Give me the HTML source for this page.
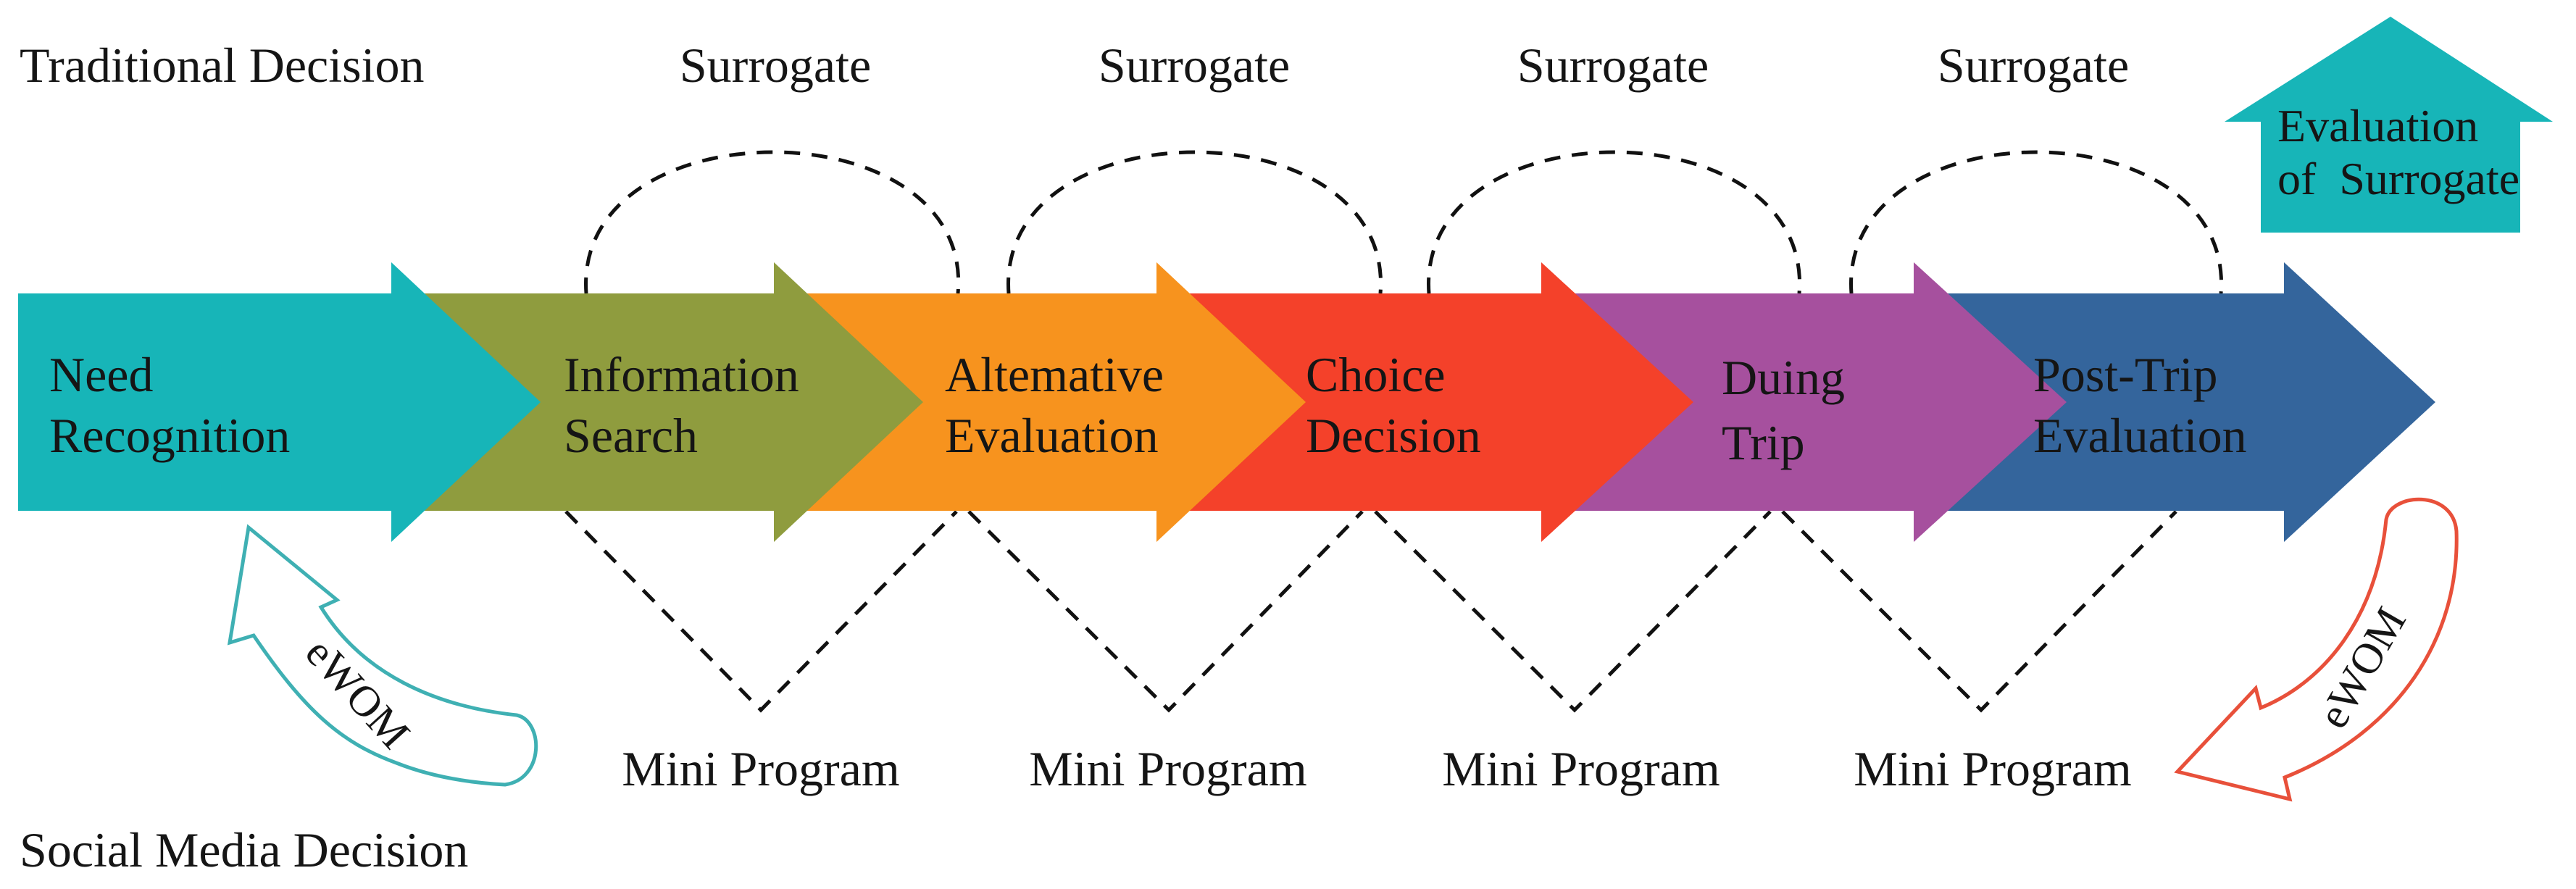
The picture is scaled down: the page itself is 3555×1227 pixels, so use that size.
<!DOCTYPE html>
<html><head><meta charset="utf-8"><style>
html,body{margin:0;padding:0;background:#fff;}
svg{display:block;}
text{font-family:"Liberation Serif",serif;fill:#151515;}
</style></head><body>
<svg width="3555" height="1227" viewBox="0 0 3555 1227" xmlns="http://www.w3.org/2000/svg">
<rect width="3555" height="1227" fill="#fff"/>
<g fill="none" stroke="#111" stroke-width="5" stroke-dasharray="22,16">
<path d="M809 405 C790 145, 1345 145, 1322 405"/>
<path d="M1392 405 C1373 145, 1925 145, 1905 405"/>
<path d="M1972 405 C1953 145, 2503 145, 2483 405"/>
<path d="M2555 405 C2536 145, 3085 145, 3065 405"/>
<path d="M781 706 L1050 980 L1320 706"/>
<path d="M1337 706 L1613 980 L1880 706"/>
<path d="M1898 706 L2173 980 L2443 706"/>
<path d="M2460 706 L2734 980 L3003 706"/>
</g>
<polygon fill="#34659c" points="2641,405 3152,405 3152,362 3361,555 3152,748 3152,705 2641,705"/>
<polygon fill="#a6509e" points="2127,405 2641,405 2641,362 2852,555 2641,748 2641,705 2127,705"/>
<polygon fill="#f4412a" points="1596,405 2127,405 2127,362 2337,555 2127,748 2127,705 1596,705"/>
<polygon fill="#f7931e" points="1068,405 1596,405 1596,362 1802,555 1596,748 1596,705 1068,705"/>
<polygon fill="#8f9c3e" points="540,405 1068,405 1068,362 1274,555 1068,748 1068,705 540,705"/>
<polygon fill="#17b5b8" points="25,405 540,405 540,362 746,555 540,748 540,705 25,705"/>
<g font-size="68">
<text x="68" y="540">Need</text><text x="68" y="624">Recognition</text>
<text x="778" y="540">Information</text><text x="778" y="624">Search</text>
<text x="1304" y="540">Altemative</text><text x="1304" y="624">Evaluation</text>
<text x="1802" y="540">Choice</text><text x="1802" y="624">Decision</text>
<text x="2376" y="544">Duing</text><text x="2376" y="634">Trip</text>
<text x="2806" y="540">Post-Trip</text><text x="2806" y="624">Evaluation</text>
</g>
<g font-size="68">
<text x="27" y="113">Traditional Decision</text>
<text x="1070" y="113" text-anchor="middle">Surrogate</text>
<text x="1648" y="113" text-anchor="middle">Surrogate</text>
<text x="2226" y="113" text-anchor="middle">Surrogate</text>
<text x="2806" y="113" text-anchor="middle">Surrogate</text>
<text x="1050" y="1084" text-anchor="middle">Mini Program</text>
<text x="1612" y="1084" text-anchor="middle">Mini Program</text>
<text x="2182" y="1084" text-anchor="middle">Mini Program</text>
<text x="2750" y="1084" text-anchor="middle">Mini Program</text>
<text x="27" y="1196">Social Media Decision</text>
</g>
<polygon fill="#17b5b8" points="3299,23 3523,168 3478,168 3478,321 3120,321 3120,168 3070,168"/>
<text x="3143" y="195" font-size="64">Evaluation</text>
<text x="3143" y="268" font-size="64">of&#160; Surrogate</text>
<path fill="#fff" stroke="#3fb0b3" stroke-width="5" d="M343 728 L465 828 L443 838 C500 930, 600 975, 713 987 C750 995, 752 1075, 697 1083 C640 1080, 590 1070, 547 1053 C470 1025, 420 980, 350 877 L317 887 Z"/>
<text x="490" y="975" font-size="60" text-anchor="middle" transform="rotate(48 490 960)">eWOM</text>
<path fill="#fff" stroke="#e8503a" stroke-width="5" d="M3005 1065 L3113 950 L3120 977 C3210 940, 3280 850, 3293 717 C3300 680, 3385 675, 3390 733 C3395 880, 3310 1010, 3153 1073 L3160 1103 Z"/>
<text x="3262" y="940" font-size="60" text-anchor="middle" transform="rotate(-60 3262 923)">eWOM</text>
</svg>
</body></html>
